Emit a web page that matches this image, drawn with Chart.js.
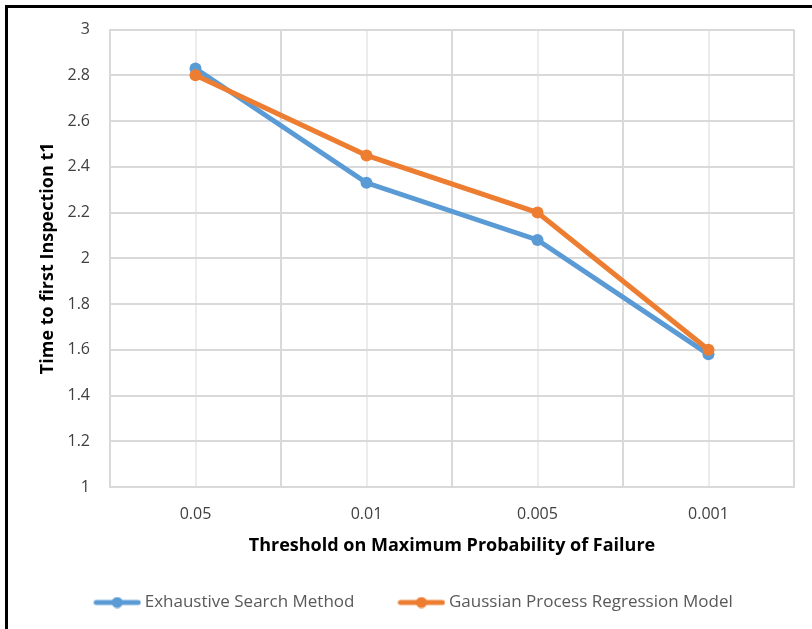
<!DOCTYPE html>
<html>
<head>
<meta charset="utf-8">
<script src="https://cdn.jsdelivr.net/npm/chart.js@4/dist/chart.umd.min.js"></script>
<style>
  html, body { margin: 0; padding: 0; background: #fff; overflow: hidden; }
  #wrap { position: relative; width: 812px; height: 629px; }
  #frame { position: absolute; left: 5px; top: 5px; width: 900px; height: 700px;
           border: 3px solid #000; box-sizing: border-box; }
  #c { position: absolute; left: 0; top: 0; }
</style>
</head>
<body>
<div id="wrap">
  <div id="frame"></div>
  <canvas id="c" width="812" height="629"></canvas>
</div>
<script>
// Thresholds on the maximum probability of failure (x categories)
const categories = ['0.05', '0.01', '0.005', '0.001'];
// Time to first inspection for each method
const exhaustiveSearch = [2.83, 2.33, 2.08, 1.58];
const gaussianProcess = [2.80, 2.45, 2.20, 1.60];
// Value axis range
const yMin = 1, yMax = 3, yStep = 0.2;

const BLUE = '#5B9BD5';
const ORANGE = '#ED7D31';
const FONT = '"Open Sans", Lato, sans-serif';

// Legend swatch: a short line with a round marker in the middle
function swatch(color) {
  const c = document.createElement('canvas');
  c.width = 48; c.height = 12;
  const g = c.getContext('2d');
  g.strokeStyle = color; g.lineWidth = 5; g.lineCap = 'round';
  g.beginPath(); g.moveTo(3, 6); g.lineTo(45, 6); g.stroke();
  g.fillStyle = color;
  g.beginPath(); g.arc(24, 6, 5.5, 0, Math.PI * 2); g.fill();
  return c;
}

const toPoints = arr => arr.map((v, i) => ({ x: i, y: v }));
const isWhole = v => Math.abs(v - Math.round(v)) < 1e-6;

new Chart(document.getElementById('c'), {
  type: 'line',
  data: {
    datasets: [
      {
        label: 'Exhaustive Search Method',
        data: toPoints(exhaustiveSearch),
        borderColor: BLUE, backgroundColor: BLUE,
        borderWidth: 5, pointRadius: 6, pointBorderWidth: 0,
        pointStyle: 'circle', order: 1, tension: 0,
        legendSwatch: swatch(BLUE)
      },
      {
        label: 'Gaussian Process Regression Model',
        data: toPoints(gaussianProcess),
        borderColor: ORANGE, backgroundColor: ORANGE,
        borderWidth: 5, pointRadius: 6, pointBorderWidth: 0,
        pointStyle: 'circle', order: 0, tension: 0,
        legendSwatch: swatch(ORANGE)
      }
    ]
  },
  options: {
    responsive: false,
    animation: false,
    devicePixelRatio: 1,
    layout: { padding: { top: 29, right: 17, left: 36, bottom: 8 } },
    plugins: {
      tooltip: { enabled: false },
      legend: {
        position: 'bottom',
        labels: {
          font: { family: FONT, size: 17 },
          color: '#595959',
          usePointStyle: true,
          pointStyleWidth: 38,
          padding: 48,
          sort: (a, b) => a.datasetIndex - b.datasetIndex,
          generateLabels: chart => chart.data.datasets.map((ds, i) => ({
            text: ds.label,
            pointStyle: ds.legendSwatch,
            fillStyle: ds.borderColor,
            strokeStyle: ds.borderColor,
            lineWidth: 0,
            fontColor: '#595959',
            hidden: false,
            datasetIndex: i
          }))
        }
      }
    },
    scales: {
      x: {
        type: 'linear',
        min: -0.5, max: categories.length - 0.5,
        afterFit: s => { s.height = 59; },
        ticks: {
          stepSize: 0.5,
          autoSkip: false,
          maxRotation: 0,
          padding: 18,
          color: '#404040',
          font: { family: FONT, size: 16 },
          callback: v => isWhole(v) ? categories[Math.round(v)] : ''
        },
        grid: {
          drawTicks: false,
          lineWidth: 2,
          color: ctx => (ctx.tick && isWhole(ctx.tick.value) && ctx.tick.value >= 0 && ctx.tick.value < categories.length) ? '#ececec' : '#d9d9d9'
        },
        border: { display: true, color: '#d9d9d9', width: 2 },
        title: {
          display: true,
          text: 'Threshold on Maximum Probability of Failure',
          font: { family: FONT, size: 18, weight: 'bold' },
          color: '#000',
          padding: { top: 0, bottom: -10.8 }
        }
      },
      y: {
        type: 'linear',
        min: yMin, max: yMax,
        afterFit: s => { s.width = 74; },
        ticks: {
          stepSize: yStep,
          padding: 20,
          color: '#404040',
          font: { family: FONT, size: 16 },
          callback: v => String(Math.round(v * 10) / 10)
        },
        grid: { drawTicks: false, lineWidth: 2, color: '#d9d9d9' },
        border: { display: true, color: '#d9d9d9', width: 2 },
        title: {
          display: true,
          text: 'Time to first Inspection t1',
          font: { family: FONT, size: 18, weight: 'bold' },
          color: '#000',
          padding: { top: 1.2, bottom: 0 }
        }
      }
    }
  }
});
</script>
</body>
</html>
